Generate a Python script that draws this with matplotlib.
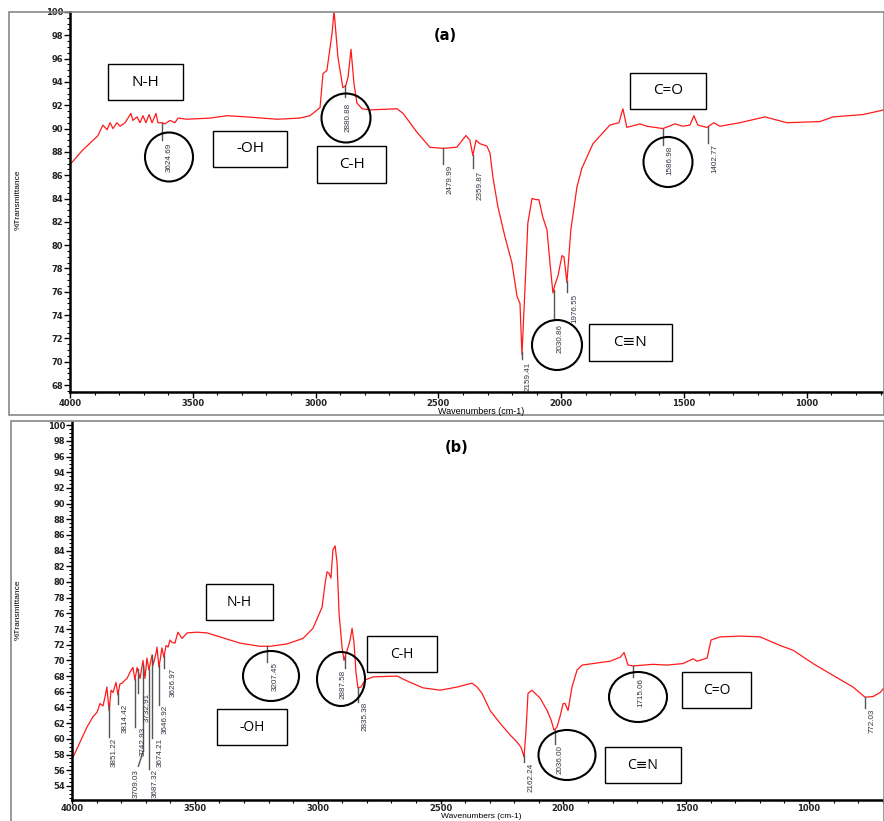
import matplotlib
matplotlib.use("Agg")
import matplotlib.pyplot as plt
from matplotlib.patches import Rectangle, Ellipse
from matplotlib.ticker import MultipleLocator
import numpy as np

W, H = 884, 821

# ---- spectrum (a) : wavenumber (cm-1), %T
wn_a = [4000, 3992, 3951, 3906, 3886, 3866, 3849, 3837, 3825, 3809, 3796, 3776,
        3752, 3744, 3727, 3715, 3703, 3691, 3678, 3666, 3650, 3642, 3625, 3613,
        3593, 3573, 3560, 3524, 3430, 3361, 3280, 3157, 3064, 3023, 2982, 2970,
        2954, 2933, 2925, 2909, 2889, 2877, 2868, 2856, 2844, 2832, 2811, 2779,
        2669, 2644, 2588, 2535, 2482, 2425, 2388, 2372, 2360, 2347, 2331, 2303,
        2290, 2278, 2258, 2229, 2201, 2180, 2168, 2160, 2148, 2136, 2119, 2103,
        2091, 2075, 2058, 2046, 2034, 2026, 2014, 1997, 1989, 1977, 1961, 1936,
        1916, 1871, 1802, 1765, 1749, 1733, 1680, 1651, 1619, 1586, 1537, 1505,
        1476, 1460, 1444, 1407, 1379, 1354, 1273, 1171, 1081, 947, 894, 772, 686]
tr_a = [87.0, 87.1, 88.1, 89.0, 89.4, 90.3, 89.9, 90.5, 90.0, 90.5, 90.2, 90.5,
        91.3, 90.7, 91.0, 90.5, 91.1, 90.5, 91.2, 90.5, 91.3, 90.5, 90.5, 90.4,
        90.7, 90.5, 90.9, 90.8, 90.9, 91.1, 91.0, 90.8, 90.9, 91.1, 91.8, 94.7,
        95.0, 98.2, 100.1, 96.1, 93.5, 93.7, 94.4, 96.8, 93.9, 92.2, 91.7, 91.6,
        91.7, 91.3, 89.7, 88.4, 88.3, 88.4, 89.4, 89.0, 87.7, 89.0, 88.7, 88.5,
        87.9, 85.8, 83.3, 80.7, 78.5, 75.6, 75.0, 70.6, 76.1, 81.9, 84.0, 83.9,
        83.9, 82.4, 81.3, 78.5, 75.9, 76.6, 77.3, 79.1, 79.0, 76.8, 81.3, 85.0,
        86.6, 88.7, 90.3, 90.5, 91.7, 90.1, 90.4, 90.2, 90.1, 90.0, 90.4, 90.2,
        90.3, 91.1, 90.3, 90.1, 90.5, 90.2, 90.5, 91.0, 90.5, 90.6, 91.0, 91.2, 91.6]

# ---- spectrum (b)
wn_b = [4000, 3992, 3939, 3915, 3898, 3886, 3874, 3866, 3858, 3849, 3841, 3833,
        3821, 3813, 3805, 3796, 3784, 3776, 3764, 3752, 3744, 3735, 3723, 3711,
        3703, 3695, 3687, 3674, 3670, 3658, 3654, 3646, 3634, 3626, 3617, 3609,
        3601, 3593, 3581, 3569, 3552, 3532, 3491, 3450, 3398, 3316, 3235, 3194,
        3125, 3060, 3019, 2982, 2970, 2962, 2954, 2946, 2938, 2929, 2921, 2913,
        2901, 2893, 2877, 2868, 2860, 2852, 2844, 2836, 2824, 2807, 2775, 2677,
        2624, 2571, 2502, 2433, 2372, 2351, 2331, 2298, 2258, 2217, 2189, 2172,
        2160, 2152, 2144, 2128, 2115, 2095, 2066, 2050, 2038, 2026, 2014, 2001,
        1993, 1981, 1965, 1944, 1924, 1879, 1810, 1769, 1753, 1737, 1716, 1635,
        1578, 1513, 1472, 1456, 1415, 1399, 1362, 1281, 1199, 1118, 1065, 984,
        903, 821, 772, 739, 711, 695]
tr_b = [57.5, 57.9, 61.5, 62.8, 63.4, 64.5, 64.2, 65.3, 66.6, 63.6, 66.2, 65.9,
        67.2, 65.6, 67.0, 67.1, 67.5, 67.7, 68.5, 69.1, 67.5, 69.1, 67.7, 70.0,
        67.7, 70.3, 68.8, 70.7, 69.4, 70.9, 71.7, 69.1, 71.6, 70.4, 71.9, 71.7,
        72.6, 72.3, 72.2, 73.6, 72.8, 73.5, 73.6, 73.5, 73.0, 72.2, 71.8, 71.8,
        72.1, 72.8, 74.1, 76.8, 79.8, 81.3, 81.1, 80.5, 84.1, 84.6, 82.4, 76.0,
        71.7, 70.0, 71.6, 72.6, 74.1, 72.2, 68.4, 66.5, 66.6, 67.5, 67.9, 68.0,
        67.2, 66.5, 66.2, 66.6, 67.1, 66.6, 65.8, 63.6, 62.0, 60.5, 59.6, 58.9,
        57.7, 61.1, 65.8, 66.2, 65.8, 65.2, 63.6, 62.4, 61.1, 61.5, 62.8, 64.5,
        64.5, 63.6, 66.6, 68.8, 69.4, 69.6, 69.9, 70.4, 71.0, 69.4, 69.3, 69.5,
        69.4, 69.6, 70.2, 69.9, 70.3, 72.6, 73.0, 73.1, 73.0, 71.9, 71.3, 69.6,
        68.1, 66.6, 65.3, 65.4, 65.9, 66.5]

peaks_a = [3624.69, 2880.88, 2479.99, 2359.87, 2159.41, 2030.86, 1976.55, 1586.98, 1402.77]
peaks_b = [3851.22, 3814.42, 3742.93, 3732.91, 3709.03, 3687.32, 3674.21, 3646.92,
           3626.97, 3207.45, 2887.58, 2835.38, 2162.24, 2036.00, 1715.06, 772.03]

# where each peak label goes: (tick end %T, text x, text top %T)
place_a = [(89.0, 3597, 88.8), (92.7, 2868, 92.2), (87.0, 2453, 86.9), (86.6, 2331, 86.4),
           (70.2, 2136, 70.0), (73.6, 2005, 73.2), (76.0, 1944, 75.8), (88.6, 1558, 88.5),
           (88.8, 1374, 88.7)]
place_b = [(60.2, 3829, 60.2), (64.4, 3784, 64.5), (61.5, 3711, 61.5), (65.9, 3695, 65.9),
           (58.5, 3738, 56.2), (56.2, 3662, 56.2), (60.1, 3642, 60.1), (64.3, 3621, 64.3),
           (69.0, 3589, 69.0), (69.8, 3174, 69.8), (69.0, 2897, 68.75), (64.7, 2807, 64.7),
           (57.0, 2132, 57.0), (59.3, 2014, 59.2), (67.9, 1684, 67.7), (63.9, 744, 63.9)]

fig = plt.figure(figsize=(W / 100, H / 100), dpi=100)


def fp(x, y):
    return x / W, 1 - y / H


def setup(ax, ylo, yhi, xhi, tick_len=4, pad=1):
    ax.set_xlim(4000, xhi)
    ax.set_ylim(ylo, yhi)
    ax.xaxis.set_major_locator(MultipleLocator(500))
    ax.xaxis.set_minor_locator(MultipleLocator(100))
    ax.yaxis.set_major_locator(MultipleLocator(2))
    ax.yaxis.set_minor_locator(MultipleLocator(0.5))
    ax.tick_params(which='major', length=4, width=1, direction='out', labelsize=6, pad=1)
    ax.tick_params(axis='x', which='major', length=tick_len, pad=pad)
    ax.tick_params(which='minor', length=2.5, width=0.8, direction='out')
    for s in ['top', 'right']:
        ax.spines[s].set_visible(False)
    for s in ['left', 'bottom']:
        ax.spines[s].set_linewidth(1.8)
    for lbl in ax.get_xticklabels() + ax.get_yticklabels():
        lbl.set_fontweight('bold')
        lbl.set_color('#222222')


def peak_labels(ax, wn, tr, peaks, place):
    xs = np.array(wn)[::-1]
    ys = np.array(tr)[::-1]
    for p, (yend, tx, ty) in zip(peaks, place):
        y0 = np.interp(p, xs, ys)
        ax.plot([p, p], [y0, yend], color='#555555', lw=1)
        if ty < yend - 1:
            # slanted leader down to a displaced label
            ax.plot([p, tx - 8], [yend, ty + 0.3], color='#555555', lw=1)
        ax.text(tx, ty, f'{p:.2f}', rotation=90, ha='center', va='top',
                fontsize=5.8, color='#333344', family='Liberation Sans')


def box(x0, y0, x1, y1, txt, fs):
    fig.add_artist(Rectangle(fp(x0, y1), (x1 - x0) / W, (y1 - y0) / H,
                             transform=fig.transFigure, fc='white', ec='black', lw=1, zorder=5))
    cx, cy = fp((x0 + x1) / 2, (y0 + y1) / 2)
    fig.text(cx, cy, txt, ha='center', va='center', fontsize=fs,
             family=['Open Sans', 'DejaVu Sans'], zorder=6)


def ring(cx, cy, w, h):
    fig.add_artist(Ellipse(fp(cx, cy), w / W, h / H, transform=fig.transFigure,
                           fill=False, ec='black', lw=1.5, zorder=5))


# panel frames
fig.add_artist(Rectangle(fp(9, 415), (W - 9) / W, (415 - 12) / H, transform=fig.transFigure,
                         fill=False, ec='#888888', lw=1.2))
fig.add_artist(Rectangle(fp(11, 824), (W - 11) / W, (824 - 421) / H, transform=fig.transFigure,
                         fill=False, ec='#888888', lw=1.2))

ax1 = fig.add_axes([70 / W, 1 - 392 / H, 1 - 70 / W, 380 / H])
ax1.plot(wn_a, tr_a, color='#ff1a1a', lw=0.9)
setup(ax1, 67.4, 100.0, 686)
peak_labels(ax1, wn_a, tr_a, peaks_a, place_a)

ax2 = fig.add_axes([72 / W, 1 - 800 / H, 1 - 72 / W, 378 / H])
ax2.plot(wn_b, tr_b, color='#ff1a1a', lw=0.9)
setup(ax2, 52.2, 100.4, 695, tick_len=3, pad=0)
peak_labels(ax2, wn_b, tr_b, peaks_b, place_b)

# axis titles
for yc in [200, 610]:
    x, y = fp(18, yc)
    fig.text(x, y, '%Transmittance', rotation=90, ha='center', va='center',
             fontsize=6, family='Liberation Sans')
x, y = fp(481, 411)
fig.text(x, y, 'Wavenumbers (cm-1)', ha='center', va='center',
         fontsize=6.5, family='Liberation Sans')
x, y = fp(481, 816)
fig.text(x, y, 'Wavenumbers (cm-1)', ha='center', va='center',
         fontsize=6, family='Liberation Sans')

x, y = fp(445, 35)
fig.text(x, y, '(a)', ha='center', va='center', fontsize=10.5, fontweight='bold')
x, y = fp(457, 447)
fig.text(x, y, '(b)', ha='center', va='center', fontsize=10.5, fontweight='bold')

# group boxes (a)
box(108, 64, 183, 100, 'N-H', 11)
box(213, 131, 287, 167, '-OH', 11)
box(317, 146, 386, 183, 'C-H', 11)
box(630, 73, 706, 109, 'C=O', 11)
box(589, 324, 672, 361, 'C≡N', 11)
ring(169, 157, 48, 49)
ring(346, 118, 49, 49)
ring(557, 345, 50, 50)
ring(668, 162, 49, 50)

# group boxes (b)
box(206, 584, 273, 620, 'N-H', 10)
box(217, 709, 287, 745, '-OH', 10)
box(367, 636, 437, 672, 'C-H', 10)
box(682, 672, 751, 708, 'C=O', 10)
box(605, 747, 681, 783, 'C≡N', 10)
ring(271, 676, 56, 50)
ring(341, 679, 48, 54)
ring(567, 755, 57, 50)
ring(638, 697, 58, 50)

fig.savefig('out.png', dpi=100)
